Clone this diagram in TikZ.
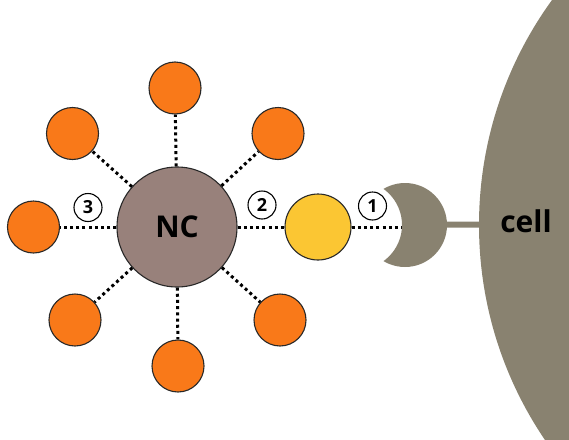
\documentclass[tikz,border=0pt]{standalone}
\usepackage{fontspec}
\setmainfont{Open Sans}
\definecolor{cellgrey}{RGB}{137,130,112}
\definecolor{ncbrown}{RGB}{152,129,123}
\definecolor{ligorange}{RGB}{249,121,25}
\definecolor{bindyellow}{RGB}{251,198,51}
\definecolor{rim}{RGB}{40,40,40}
\tikzset{
  ligand/.style={circle, draw=rim, line width=1.1pt, fill=ligorange, minimum size=52pt, inner sep=0pt},
  binder/.style={circle, draw=rim, line width=1.1pt, fill=bindyellow, minimum size=66pt, inner sep=0pt},
  core/.style={circle, draw=rim, line width=1.1pt, fill=ncbrown, minimum size=120pt, inner sep=0pt,
    font=\bfseries\fontsize{30}{30}\selectfont},
  tag/.style={circle, draw=black, line width=1.1pt, fill=white, minimum size=28pt, inner sep=0pt,
    font=\bfseries\fontsize{18}{18}\selectfont},
  dotline/.style={line width=3pt, dash pattern=on 3pt off 3.2pt, black},
  stalkline/.style={line width=6pt, cellgrey},
}
\begin{document}
\begin{tikzpicture}[x=1pt, y=-1pt]
\useasboundingbox (0,0) rectangle (569,439);
\clip (0,0) rectangle (569,439);

% the cell surface
\node[circle, fill=cellgrey, minimum size=766pt, inner sep=0pt] (cell) at (862,225) {};
\node[anchor=base, font=\bfseries\fontsize{30}{30}\selectfont] (celltxt) at (526,232) {cell};

% nanocarrier and its ligands
\node[core] (nc) at (177,227) {NC};
\node[ligand] (o1) at (175,88) {};
\node[ligand] (o2) at (278,133.5) {};
\node[ligand] (o3) at (280,320) {};
\node[ligand] (o4) at (178,366) {};
\node[ligand] (o5) at (75,320) {};
\node[ligand] (o6) at (33.5,227) {};
\node[ligand] (o7) at (72.5,133.5) {};
\node[binder] (yb) at (318,227) {};

\foreach \o in {o1,o2,o3,o4,o5,o6,o7} \draw[dotline] (nc) -- (\o);
\draw[dotline] (nc) -- (yb);

% receptor: crescent on a stalk
\coordinate (rec) at (403,227);
\coordinate (stalk) at (445,224.5);
\draw[dotline] (yb.east) -- (rec);
\begin{scope}
  \clip (405,225) circle (42);
  \fill[cellgrey, even odd rule] (350,170) rectangle (460,280) (357.5,225) circle (44.5);
\end{scope}
\draw[stalkline] (stalk) -- (cell);

% numbered bonds
\node[tag] (t3) at (88,207.5) {3};
\node[tag] (t2) at (262,205) {2};
\node[tag] (t1) at (372.5,206) {1};
\end{tikzpicture}
\end{document}
